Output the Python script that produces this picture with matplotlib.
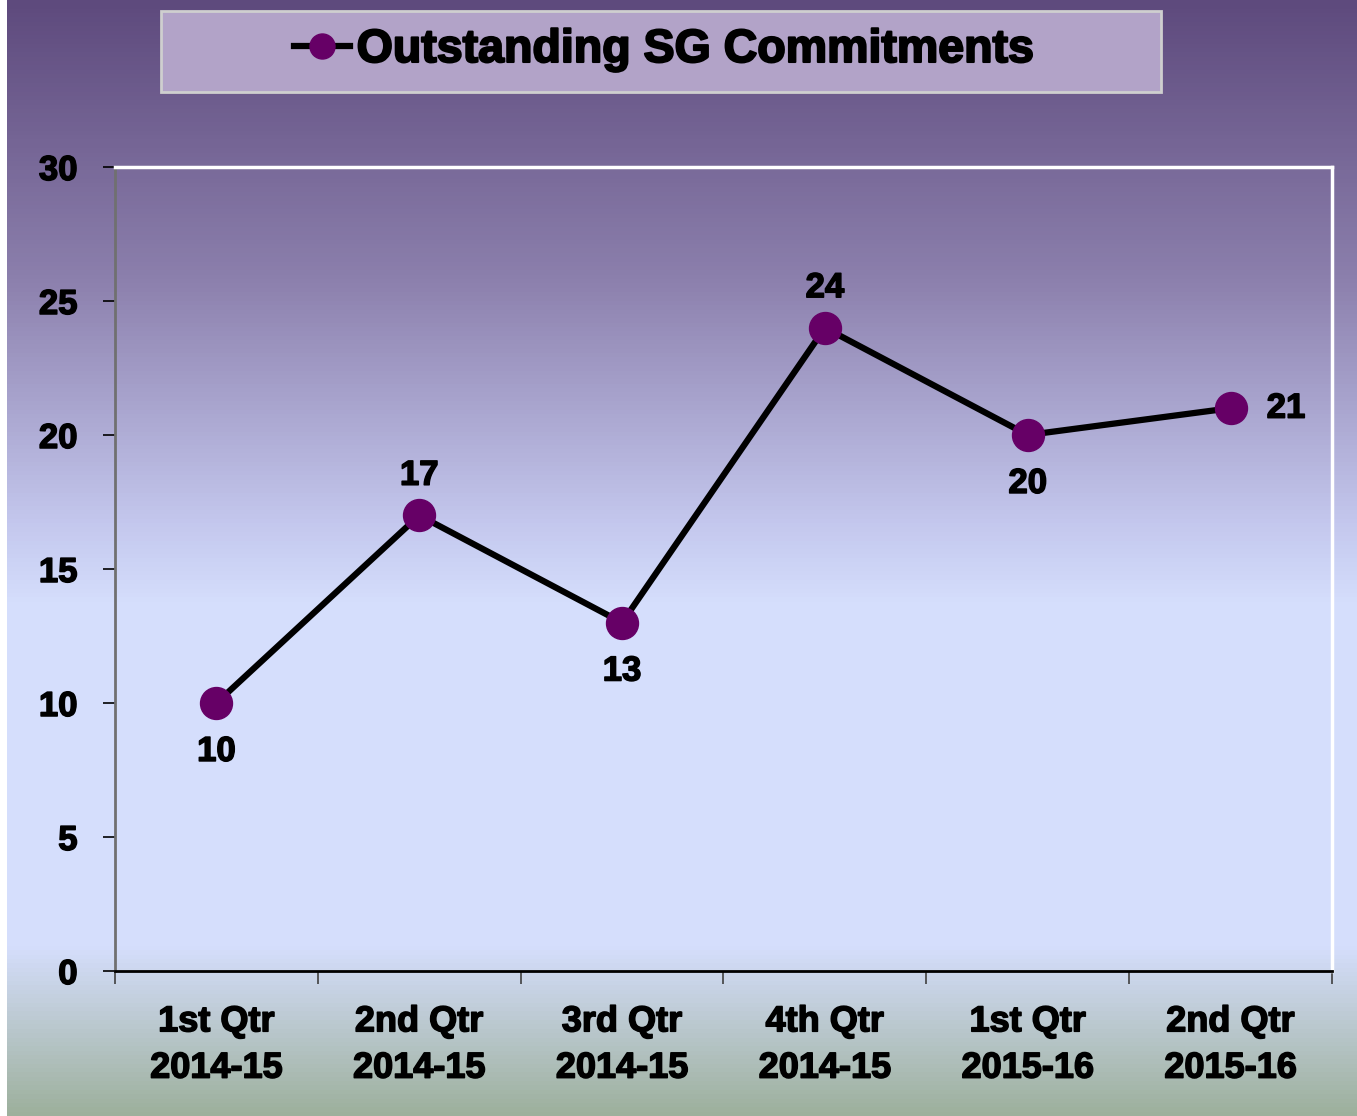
import numpy as np
import matplotlib.pyplot as plt
import matplotlib.patheffects as pe
from matplotlib.colors import LinearSegmentedColormap
from matplotlib.lines import Line2D
from matplotlib.patches import Rectangle

# data
quarters = ["1st Qtr\n2014-15", "2nd Qtr\n2014-15", "3rd Qtr\n2014-15",
            "4th Qtr\n2014-15", "1st Qtr\n2015-16", "2nd Qtr\n2015-16"]
values = [10, 17, 13, 24, 20, 21]
label_pos = ["below", "above", "below", "above", "below", "right"]

plt.rcParams["font.family"] = ["Liberation Sans", "DejaVu Sans"]
plt.rcParams["font.weight"] = "bold"

# fake a heavier (Arial Black like) face by stroking the bold glyphs
heavy = [pe.withStroke(linewidth=1.1, foreground="black")]

fig = plt.figure(figsize=(13.57, 11.16), dpi=100)

# background gradient (top purple -> light blue -> grey green)
bg = fig.add_axes([0.005, 0, 0.995, 1], zorder=-10)
grad_cmap = LinearSegmentedColormap.from_list("bg", [
    (0.0, "#5e4a7d"),
    (0.25, "#8c80ad"),
    (0.47, "#c4c8ee"),
    (0.54, "#d5defc"),
    (0.85, "#d5defc"),
    (1.0, "#9db09c"),
])
bg.imshow(np.linspace(0, 1, 256).reshape(-1, 1), aspect="auto", cmap=grad_cmap,
          extent=[0, 1, 1, 0])
bg.axis("off")

ax = fig.add_axes([115 / 1357, 1 - 971 / 1116, (1332 - 115) / 1357, (971 - 167) / 1116])
ax.patch.set_alpha(0)

x = np.arange(len(values))
ax.plot(x, values, color="black", linewidth=4.5, marker="o", markersize=23,
        markerfacecolor="#660066", markeredgecolor="#660066", zorder=3)

for xi, v, pos in zip(x, values, label_pos):
    if pos == "above":
        off, ha, va = (0, 17), "center", "bottom"
    elif pos == "below":
        off, ha, va = (0, -23), "center", "top"
    else:
        off, ha, va = (26, 0), "left", "center"
    ax.annotate(str(v), (xi, v), xytext=off, textcoords="offset points",
                ha=ha, va=va, fontsize=25, fontweight="bold", path_effects=heavy)

ax.set_xlim(-0.5, len(values) - 0.5)
ax.set_ylim(0, 30)
ax.set_yticks(range(0, 31, 5))
ax.set_xticks(np.arange(len(values) + 1) - 0.5)
ax.set_xticklabels([])
ax.set_xticks(x, minor=True)
ax.set_xticklabels(quarters, minor=True, fontsize=26, fontweight="bold", linespacing=1.42)
ax.tick_params(axis="x", which="minor", length=0, pad=24)
ax.tick_params(axis="x", which="major", direction="out", length=9, width=1.2, color="#404040")
ax.tick_params(axis="y", direction="out", length=9, width=1.2, color="black", labelsize=25, pad=18)

for lab in ax.get_yticklabels() + ax.get_xticklabels(minor=True):
    lab.set_fontweight("bold")
    lab.set_path_effects(heavy)

ax.spines["left"].set_color("#707070")
ax.spines["left"].set_linewidth(2)
ax.spines["bottom"].set_color("black")
ax.spines["bottom"].set_linewidth(2)
ax.spines["top"].set_color("white")
ax.spines["top"].set_linewidth(2.5)
ax.spines["right"].set_color("white")
ax.spines["right"].set_linewidth(2.5)

# legend box at top
box = Rectangle((161 / 1357, 1 - 92 / 1116), 1000 / 1357, 81 / 1116,
                transform=fig.transFigure, facecolor="#b2a3c8",
                edgecolor="#cfcfcf", linewidth=2, zorder=1)
fig.add_artist(box)
handle = Line2D([], [], color="black", linewidth=4.5, marker="o", markersize=18,
                markerfacecolor="#660066", markeredgecolor="#660066")
leg = fig.legend([handle], ["Outstanding SG Commitments"], loc="center",
                 bbox_to_anchor=(664 / 1357, 1 - 50 / 1116), frameon=False,
                 handlelength=1.2, handletextpad=0.15,
                 prop={"size": 33.5, "weight": "bold"})
leg.set_zorder(2)
for t in leg.get_texts():
    t.set_path_effects([pe.withStroke(linewidth=1.5, foreground="black")])

fig.savefig("out.png", dpi=100)
